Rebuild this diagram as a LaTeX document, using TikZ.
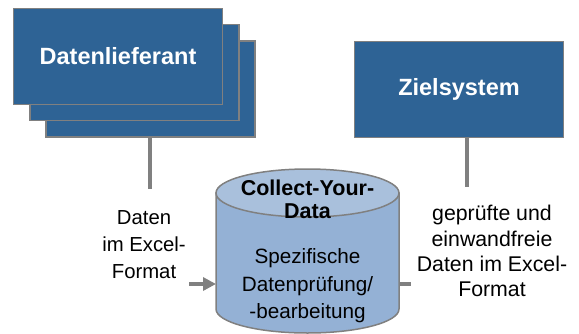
\documentclass[tikz,border=0pt]{standalone}
\usepackage{fontspec}
\setmainfont{Liberation Sans}
\usetikzlibrary{arrows.meta}
\definecolor{boxblue}{HTML}{2E6395}
\definecolor{bordergray}{HTML}{808080}
\definecolor{cylbody}{HTML}{94B1D5}
\definecolor{cyltop}{HTML}{A9C0DC}
\tikzset{
  bluebox/.style={draw=bordergray, line width=1.5pt, fill=boxblue, minimum width=209pt, minimum height=96pt, inner sep=0pt, text=white, font=\fontsize{23.5}{26}\selectfont\bfseries},
  conn/.style={draw=bordergray, line width=4pt},
  lbl/.style={align=center, inner sep=0pt, font=\fontsize{21.3}{25.2}\selectfont},
}
\begin{document}
\begin{tikzpicture}[x=1pt, y=-1pt]
\useasboundingbox (0,0) rectangle (579,333);
% stacked supplier boxes
\node[bluebox] (box3) at (150.5,89) {};
\node[bluebox] (box2) at (134.5,72.5) {};
\node[bluebox] (box1) at (118,56.5) {Datenlieferant};
\node[bluebox] (ziel) at (459,89.5) {Zielsystem};
% cylinder
\node[minimum width=183pt, minimum height=164pt, inner sep=0pt] (cyl) at (307.5,251) {};
\path[draw=bordergray, line width=1.5pt, fill=cylbody]
  (216,193) -- (216,309) arc[start angle=180, end angle=0, x radius=91.5, y radius=24] -- (399,193) -- cycle;
\path[draw=bordergray, line width=1.5pt, fill=cyltop] (307.5,193) ellipse[x radius=91.5, y radius=24];
\node[align=center, inner sep=0pt, font=\fontsize{21.5}{23}\selectfont\bfseries] (cyltitle) at (307.5,199.5) {Collect-Your-\\Data};
\node[align=center, inner sep=0pt, font=\fontsize{20.7}{27.5}\selectfont] (cyltext) at (307.5,286) {Spezifische\\Datenprüfung/\\-bearbeitung};
% labels
\node[lbl, font=\fontsize{20.3}{27}\selectfont] (lefttext) at (144,245) {Daten\\im Excel-\\Format};
\node[lbl] (righttext) at (492,251) {geprüfte und\\einwandfreie\\Daten im Excel-\\Format};
% connectors
\coordinate (lend) at (150,189);
\coordinate (rend) at (467,187);
\coordinate (astart) at (189,284);
\coordinate (ain) at (216,284);
\coordinate (aout) at (399,284);
\coordinate (stub) at (411,284);
\draw[conn] (box3.south -| lend) -- (lend);
\draw[conn] (ziel.south -| rend) -- (rend);
\draw[conn, -{Triangle[length=13pt, width=13pt]}] (astart) -- (ain);
\draw[conn] (aout) -- (stub);
\end{tikzpicture}
\end{document}
